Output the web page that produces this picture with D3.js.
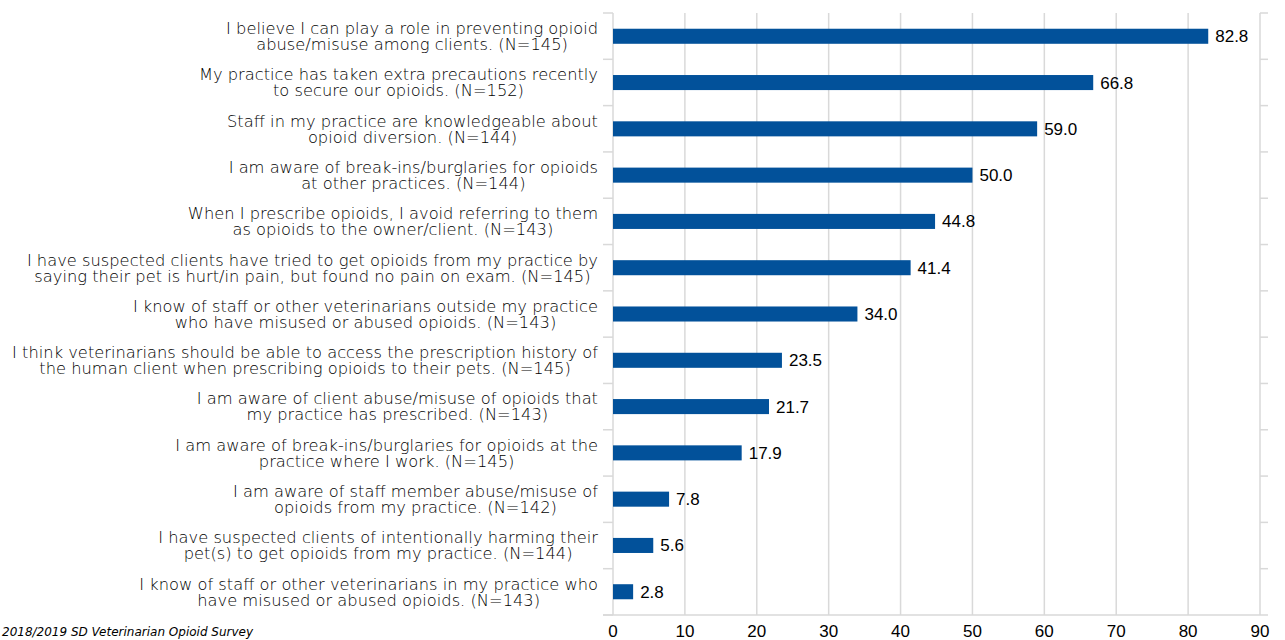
<!DOCTYPE html>
<html>
<head>
<meta charset="utf-8">
<script src="https://cdn.jsdelivr.net/npm/d3@7"></script>
<style>
  html, body { margin: 0; padding: 0; background: #fff; }
  svg { display: block; }
</style>
</head>
<body>
<svg id="chart" width="1285" height="640"></svg>
<script>
// Survey statements (two lines each) and percentage of agreement
const statements = [
  ["I believe I can play a role in preventing opioid", "abuse/misuse among clients. (N=145)"],
  ["My practice has taken extra precautions recently", "to secure our opioids. (N=152)"],
  ["Staff in my practice are knowledgeable about", "opioid diversion. (N=144)"],
  ["I am aware of break-ins/burglaries for opioids", "at other practices. (N=144)"],
  ["When I prescribe opioids, I avoid referring to them", "as opioids to the owner/client. (N=143)"],
  ["I have suspected clients have tried to get opioids from my practice by", "saying their pet is hurt/in pain, but found no pain on exam. (N=145)"],
  ["I know of staff or other veterinarians outside my practice", "who have misused or abused opioids. (N=143)"],
  ["I think veterinarians should be able to access the prescription history of", "the human client when prescribing opioids to their pets. (N=145)"],
  ["I am aware of client abuse/misuse of opioids that", "my practice has prescribed. (N=143)"],
  ["I am aware of break-ins/burglaries for opioids at the", "practice where I work. (N=145)"],
  ["I am aware of staff member abuse/misuse of", "opioids from my practice. (N=142)"],
  ["I have suspected clients of intentionally harming their", "pet(s) to get opioids from my practice. (N=144)"],
  ["I know of staff or other veterinarians in my practice who", "have misused or abused opioids. (N=143)"]
];
const percentages = [82.8, 66.8, 59.0, 50.0, 44.8, 41.4, 34.0, 23.5, 21.7, 17.9, 7.8, 5.6, 2.8];
const xTicks = [0, 10, 20, 30, 40, 50, 60, 70, 80, 90];
const sourceNote = "2018/2019 SD Veterinarian Opioid Survey";

const svg = d3.select("#chart");
const plotLeft = 613, plotRight = 1260, plotTop = 13, plotBottom = 615;
const barColor = "#02519a";
const gridColor = "#d9d9d9";
const labelFont = "'DejaVu Sans', sans-serif";
const numFont = "'Liberation Sans', Arial, sans-serif";

const x = d3.scaleLinear().domain([0, 90]).range([plotLeft, plotRight]);
const y = d3.scaleBand().domain(d3.range(statements.length)).range([plotTop, plotBottom])
  .paddingInner(0.675).paddingOuter(0.34);
const band = d3.scaleBand().domain(d3.range(statements.length)).range([plotTop, plotBottom]);

// vertical gridlines
svg.append("g").selectAll("line").data(xTicks.slice(1)).join("line")
  .attr("x1", d => x(d)).attr("x2", d => x(d))
  .attr("y1", plotTop).attr("y2", plotBottom)
  .attr("stroke", gridColor).attr("stroke-width", 1.5);

// category boundary ticks on left and right
const boundaries = d3.range(statements.length + 1).map(i => i < statements.length ? band(i) : plotBottom);
svg.append("g").selectAll("line").data(boundaries).join("line")
  .attr("x1", plotLeft - 10).attr("x2", plotLeft)
  .attr("y1", d => d).attr("y2", d => d)
  .attr("stroke", gridColor).attr("stroke-width", 1.5);
svg.append("g").selectAll("line").data(boundaries.slice(0, -1)).join("line")
  .attr("x1", plotRight).attr("x2", plotRight + 8)
  .attr("y1", d => d).attr("y2", d => d)
  .attr("stroke", gridColor).attr("stroke-width", 1.5);

// left axis line and bottom axis line
svg.append("line").attr("x1", plotLeft).attr("x2", plotLeft).attr("y1", plotTop).attr("y2", plotBottom)
  .attr("stroke", gridColor).attr("stroke-width", 1.5);
svg.append("line").attr("x1", plotLeft - 10).attr("x2", plotRight + 8).attr("y1", plotBottom).attr("y2", plotBottom)
  .attr("stroke", gridColor).attr("stroke-width", 1.5);

// bars
svg.append("g").selectAll("rect").data(percentages).join("rect")
  .attr("x", x(0)).attr("y", (d, i) => y(i))
  .attr("width", d => x(d) - x(0)).attr("height", y.bandwidth())
  .attr("fill", barColor);

// value labels
svg.append("g").selectAll("text").data(percentages).join("text")
  .attr("x", d => x(d) + 7)
  .attr("y", (d, i) => y(i) + y.bandwidth() / 2)
  .attr("dy", "0.35em")
  .attr("font-family", numFont).attr("font-size", 17).attr("fill", "#000")
  .text(d => d.toFixed(1));

// category labels: two centered lines, block right edge aligned
const labelRight = 598;
statements.forEach((lines, i) => {
  const cy = band(i) + band.bandwidth() / 2;
  const g = svg.append("g");
  const texts = lines.map((ln, k) => g.append("text")
    .attr("y", cy + (k === 0 ? -8 : 8))
    .attr("dy", "0.36em")
    .attr("text-anchor", "middle")
    .attr("font-family", labelFont).attr("font-weight", 200)
    .attr("font-size", 16.3).attr("fill", "#000")
    .text(ln));
  const maxW = d3.max(texts, t => t.node().getComputedTextLength());
  texts.forEach(t => t.attr("x", labelRight - maxW / 2));
});

// x axis tick labels
svg.append("g").selectAll("text").data(xTicks).join("text")
  .attr("x", d => x(d)).attr("y", 637)
  .attr("text-anchor", "middle")
  .attr("font-family", numFont).attr("font-size", 17).attr("fill", "#000")
  .text(d => d);

// source note
svg.append("text").attr("x", 2).attr("y", 636)
  .attr("font-family", labelFont).attr("font-style", "italic").attr("font-weight", 200)
  .attr("font-size", 12).attr("fill", "#000")
  .text(sourceNote);
</script>
</body>
</html>
